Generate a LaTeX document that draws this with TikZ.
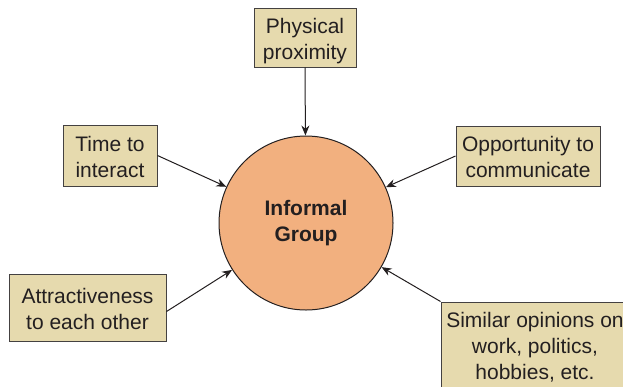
\documentclass[tikz,border=0pt]{standalone}
\usepackage{fontspec}
\setmainfont{Liberation Sans}
\usetikzlibrary{arrows.meta}
\definecolor{boxfill}{HTML}{E6DAAE}
\definecolor{circfill}{HTML}{F2B07F}
\definecolor{ink}{HTML}{231F20}
\newcommand\topstrut{\rule{0pt}{25pt}}
\newcommand\botstrut{\rule[-8pt]{0pt}{8pt}}
\tikzset{
  factor/.style={draw=ink!85, fill=boxfill, line width=1pt, inner sep=0pt, align=center,
    text=ink, font=\fontsize{21}{26}\selectfont},
  core/.style={circle, draw=ink, fill=circfill, line width=1pt, inner sep=0pt, minimum size=174pt,
    align=center, text=ink, font=\fontsize{21}{26}\selectfont\bfseries},
  link/.style={draw=ink, line width=1pt, -{Stealth[length=10pt,width=8pt]}}
}
\begin{document}
\begin{tikzpicture}[x=1pt,y=-1pt]
\useasboundingbox (0,0) rectangle (623,386);
\clip (0,0) rectangle (623,386);
\node[core] (g) at (306,223) {Informal\\Group};
\node[factor, minimum width=102pt, minimum height=59pt] (phys) at (305,37.5) {\topstrut Physical\\proximity\botstrut};
\node[factor, minimum width=94pt, minimum height=61pt] (time) at (110,155.5) {\topstrut Time to\\interact\botstrut};
\node[factor, minimum width=144pt, minimum height=60pt] (opp) at (528,156) {\topstrut Opportunity to\\communicate\botstrut};
\node[factor, minimum width=157pt, minimum height=67pt] (attr) at (87.5,307.5) {\topstrut Attractiveness\\to each other\botstrut};
\node[factor, minimum width=188pt, minimum height=85pt] (sim) at (535,344.5) {\topstrut Similar opinions on\\work, politics,\\hobbies, etc.\botstrut};
\draw[link] (phys.south) -- (g);
\draw[link] (time.east) -- (g);
\draw[link] (opp.west) -- (g);
\draw[link] ([yshift=-4pt]attr.east) -- (g);
\draw[link] (sim.north west) -- (g);
\end{tikzpicture}
\end{document}
